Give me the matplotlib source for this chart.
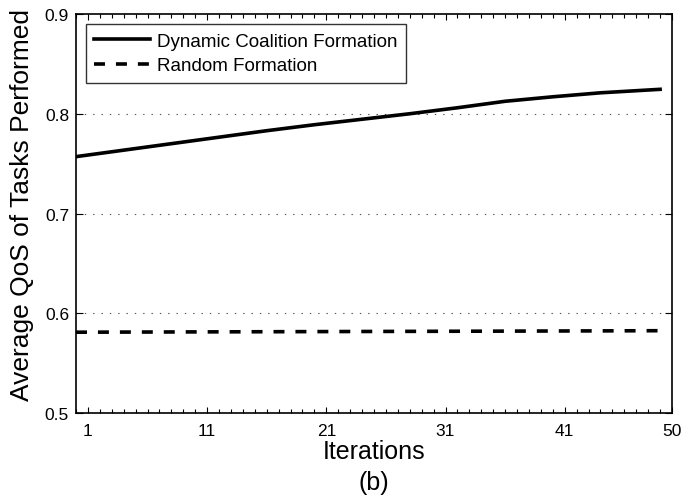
import matplotlib
matplotlib.use('Agg')
import matplotlib.pyplot as plt
from matplotlib.ticker import MultipleLocator

# Average QoS per iteration for the two formation strategies
dynamic_iters = [0, 4, 8, 12, 16, 20, 24, 28, 32, 36, 40, 44, 49]
dynamic_qos = [0.757, 0.7635, 0.770, 0.7765, 0.783, 0.789, 0.7945,
               0.800, 0.806, 0.8125, 0.817, 0.821, 0.8245]

random_iters = [0, 10, 20, 30, 40, 49]
random_qos = [0.5810, 0.5813, 0.5816, 0.5819, 0.5822, 0.5825]

x_ticks = [1, 11, 21, 31, 41, 50]
y_ticks = [0.5, 0.6, 0.7, 0.8, 0.9]

plt.rcParams['font.family'] = ['Liberation Sans', 'DejaVu Sans']
plt.rcParams['lines.scale_dashes'] = False

fig = plt.figure(figsize=(6.84, 5.02), dpi=100)
ax = fig.add_axes([76 / 684, 1 - 414 / 502, 596 / 684, 399 / 502])

ax.plot(dynamic_iters, dynamic_qos, color='black', lw=2.6,
        label='Dynamic Coalition Formation')
ax.plot(random_iters, random_qos, color='black', lw=2.6,
        linestyle=(0, (7.9, 7.9)), label='Random Formation')

ax.set_xlim(0, 50)
ax.set_ylim(0.5, 0.9)
ax.set_xticks(x_ticks)
ax.set_yticks(y_ticks)
ax.set_yticklabels([f'{v:.1f}' for v in y_ticks])
ax.xaxis.set_minor_locator(MultipleLocator(1))

for y in y_ticks[1:-1]:
    ax.axhline(y, color='#555555', lw=0.8, linestyle=(0, (1, 5)), zorder=0)

ax.tick_params(axis='both', which='both', direction='in',
               top=True, right=True, labelsize=12.5, width=0.8)
ax.tick_params(axis='x', which='major', length=4, pad=7)
ax.tick_params(axis='x', which='minor', length=3)
ax.tick_params(axis='y', which='major', length=5, pad=5)
for sp in ax.spines.values():
    sp.set_linewidth(1.2)

leg = ax.legend(loc='upper left', bbox_to_anchor=(0.0168, 0.975),
                borderaxespad=0, fontsize=13.5, frameon=True, fancybox=False,
                handlelength=2.95, handletextpad=0.4, labelspacing=0.4,
                borderpad=0.45)
leg.get_frame().set_edgecolor('black')
leg.get_frame().set_linewidth(1.0)

fig.text(374 / 684, 1 - 452 / 502, 'Iterations', ha='center', va='center',
         fontsize=18)
fig.text(374 / 684, 1 - 483 / 502, '(b)', ha='center', va='center',
         fontsize=18)
fig.text(22 / 684, 1 - 205 / 502, 'Average QoS of Tasks Performed',
         rotation=90, ha='center', va='center', fontsize=19)

fig.savefig('out.png', dpi=100)
